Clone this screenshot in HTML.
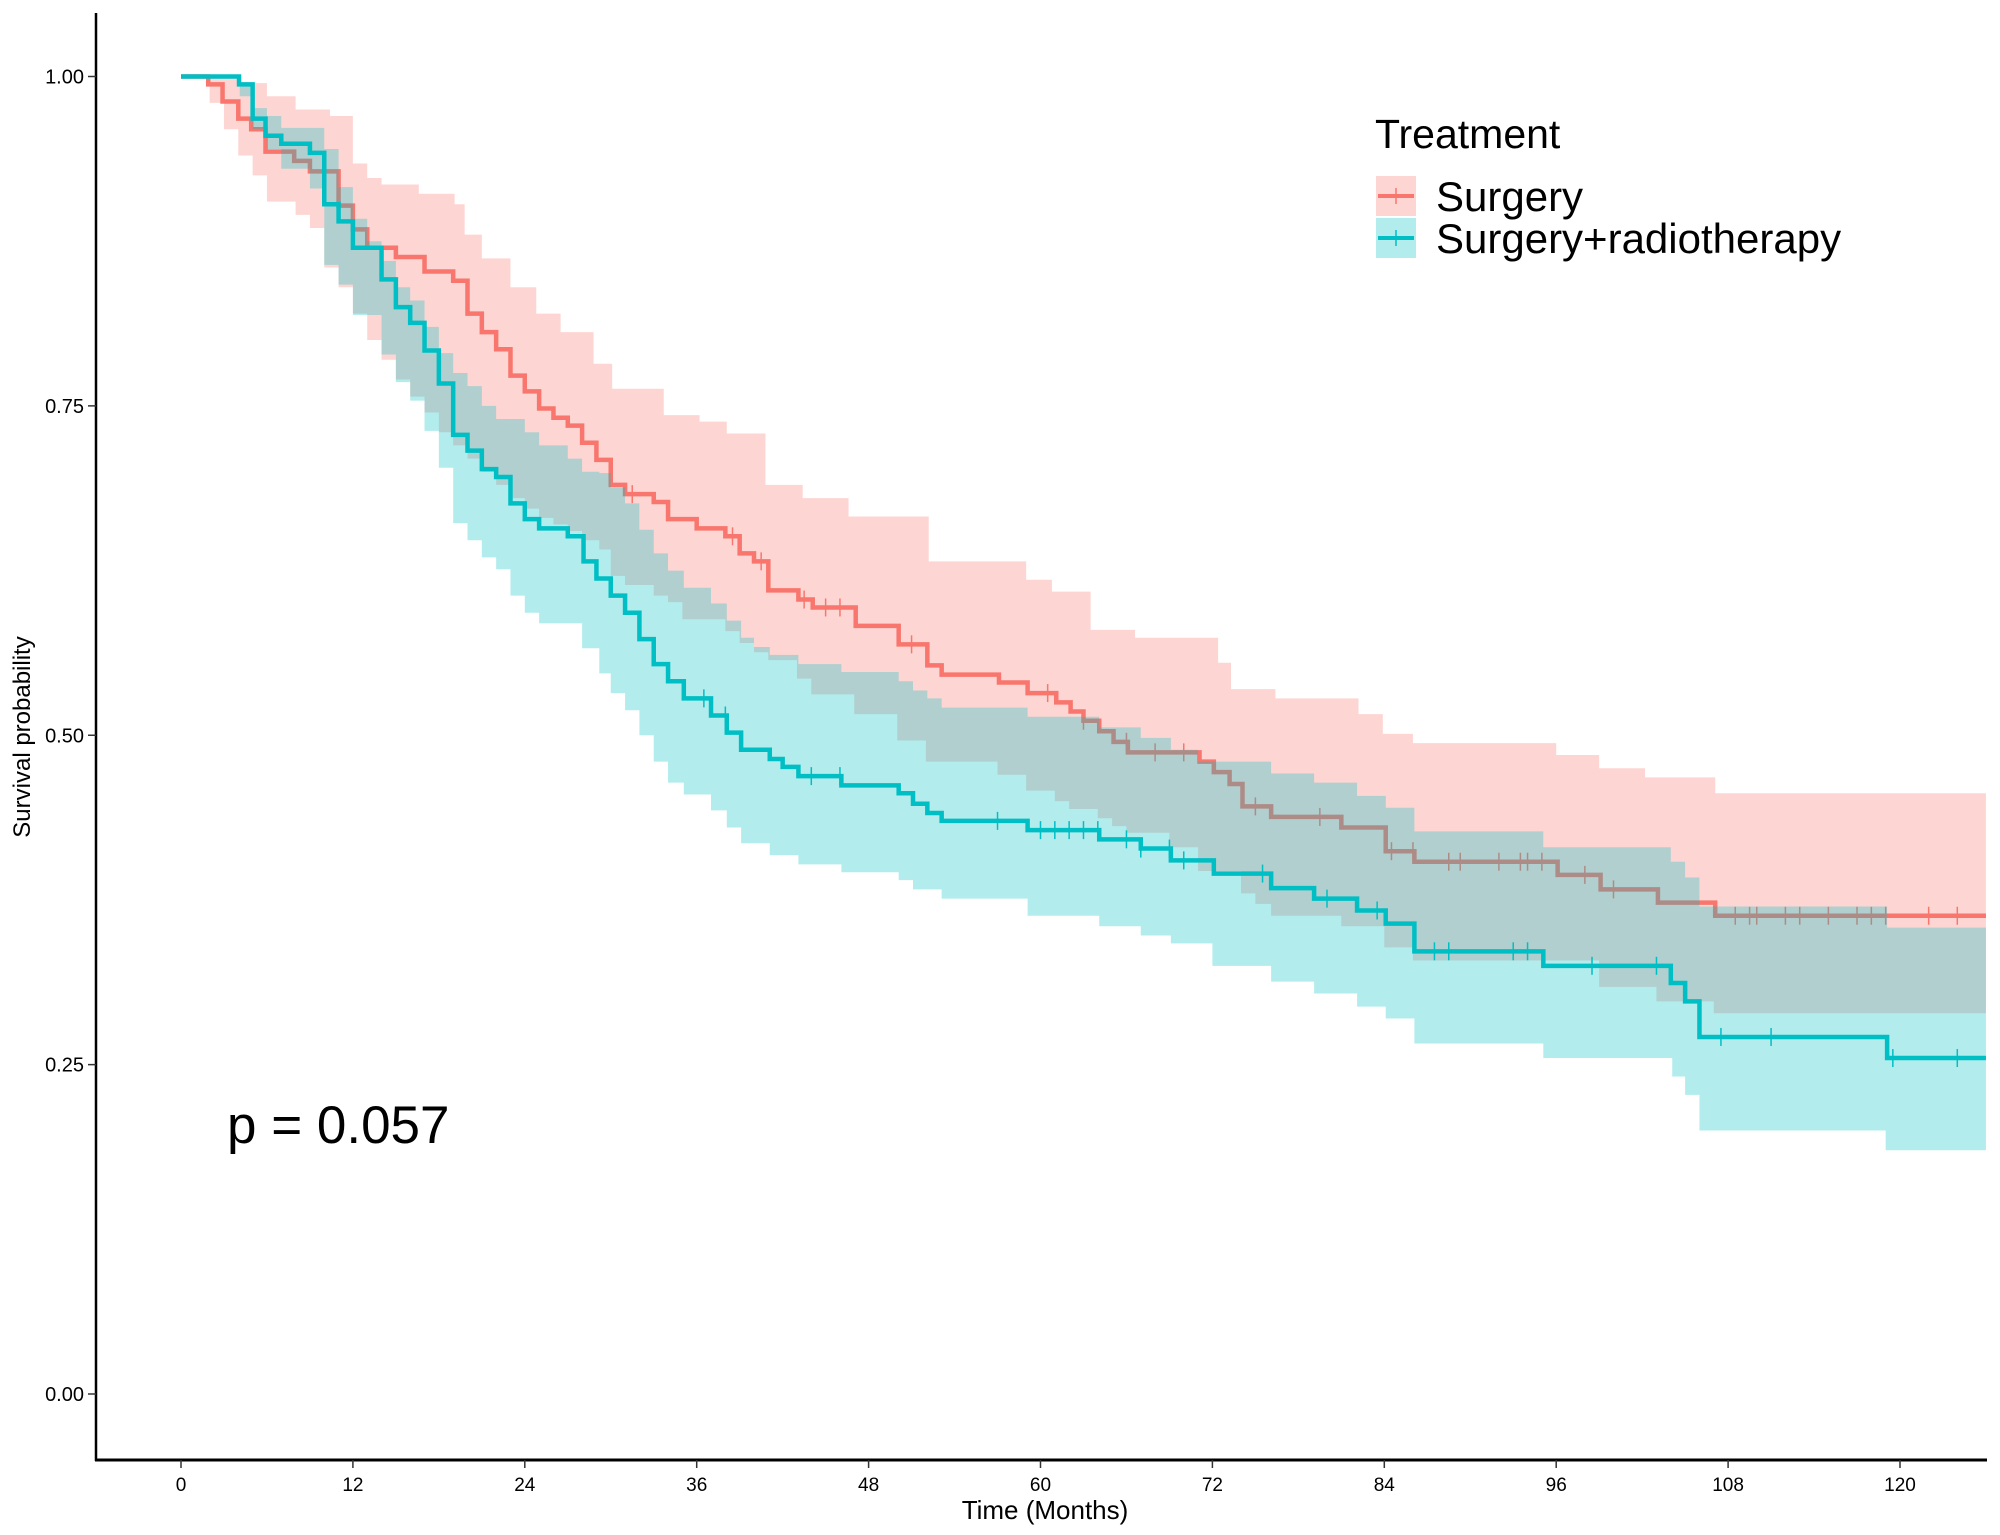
<!DOCTYPE html>
<html><head><meta charset="utf-8">
<style>
html,body{margin:0;padding:0;background:#fff;}
svg{display:block;font-family:"Liberation Sans",Arial,sans-serif;}
</style></head>
<body>
<svg id="chart" width="2000" height="1535" viewBox="0 0 2000 1535" xmlns="http://www.w3.org/2000/svg">
  <rect width="2000" height="1535" fill="#fff"/>
  <g id="bands"></g>
  <g id="axes"></g>
  <text x="0" y="0" transform="translate(30,737) rotate(-90)" text-anchor="middle" font-size="24" fill="#000">Survival probability</text>
  <text x="1045" y="1519" text-anchor="middle" font-size="26" fill="#000">Time (Months)</text>
  <text x="227" y="1143" font-size="53" fill="#000">p = 0.057</text>
  <g>
    <text x="1375" y="148" font-size="41" fill="#000">Treatment</text>
    <g>
      <rect x="1376" y="176" width="40" height="40" fill="rgba(248,118,109,0.3)"/>
      <line x1="1378" y1="196" x2="1414" y2="196" stroke="#F8766D" stroke-width="4"/>
      <line x1="1396" y1="188" x2="1396" y2="204" stroke="#F8766D" stroke-width="1.5"/>
      <text x="1436" y="211" font-size="42" fill="#000">Surgery</text>
    </g>
    <g>
      <rect x="1376" y="218" width="40" height="40" fill="rgba(0,191,196,0.3)"/>
      <line x1="1378" y1="238" x2="1414" y2="238" stroke="#00BFC4" stroke-width="4"/>
      <line x1="1396" y1="230" x2="1396" y2="246" stroke="#00BFC4" stroke-width="1.5"/>
      <text x="1436" y="253" font-size="42" fill="#000">Surgery+radiotherapy</text>
    </g>
  </g>
</svg>
<script>
const xTicks = [0,12,24,36,48,60,72,84,96,108,120];
const yTicks = [0,0.25,0.5,0.75,1.0];
const yTickLabels = ["0.00","0.25","0.50","0.75","1.00"];
const tMax = 126;

const redTime = [0,1.9,2.9,4.0,4.9,5.9,7.9,9.0,11,12,13,15,17,19,20,21,22,23,24,25,26,27,28,29,30,31,33,34,36,38,39,40,41,43.1,44.1,47.1,50.1,52.1,53.1,57.1,59.1,61.1,62.1,63,64.1,65.1,66.1,71.1,72.1,73.2,74.1,76.1,81,84.1,86.1,96.1,99.1,103.1,107.1];
const redSurv = [1,.994,.981,.968,.960,.943,.936,.928,.902,.884,.870,.863,.852,.845,.820,.806,.793,.773,.761,.748,.741,.735,.722,.709,.690,.683,.677,.664,.657,.651,.638,.632,.610,.603,.597,.583,.569,.553,.546,.540,.532,.525,.518,.511,.503,.495,.487,.480,.472,.463,.446,.438,.430,.412,.404,.394,.383,.373,.363];
const redUpTime = [0,2,4,6,8,10.4,12,13,14,16.6,19.1,19.8,21,23,24.8,26.5,28.8,30.1,33.7,36.2,38.1,40.8,43.4,46.6,52.2,59,60.8,63.5,66.6,72.4,73.3,76.4,82.2,83.9,86,96,99,102.2,107.1];
const redUp = [1,1,.995,.985,.975,.97,.934,.923,.918,.911,.903,.88,.862,.840,.820,.806,.782,.763,.743,.738,.729,.690,.680,.666,.632,.618,.609,.580,.574,.555,.535,.528,.516,.501,.494,.485,.475,.468,.456];
const redLoTime = [0,2,3,4,5,6,8,9,10,11,12,13,14,15,16,17,18,19,20,21,22,23,24,25,26,27,28,29.2,30,31,33,34,35,38,39,40,41,43,44,47,50,52,57,59,61,62,64,65,66,69,71,74,75,76.1,81,84,86,99,103,107];
const redLo = [1,.98,.96,.94,.925,.905,.895,.885,.855,.84,.82,.80,.785,.77,.757,.745,.73,.72,.71,.70,.69,.68,.672,.665,.66,.655,.648,.641,.621,.614,.606,.601,.588,.579,.570,.563,.557,.543,.531,.516,.496,.480,.470,.458,.450,.444,.437,.431,.426,.415,.397,.380,.372,.363,.355,.339,.329,.309,.298,.289];
const redCensor = [31.5,38.5,40.5,43.5,45,46,51,60.5,63,66,68,70,75,79.5,84.5,86,88.5,89.3,92,93.5,94,95,98,100,108.5,109.5,110,112,113,115,117,118,119,122,124];

const tealTime = [0,4.05,5.0,5.9,7.0,9.0,10,11,12,14,15,16,17,18,19,20,21,22,23,24,25,27,28.1,29,30,31,32,33,34,35.1,37,38.1,39.1,41.1,42,43.1,46.1,50.1,51.1,52.1,53.1,59.1,64.1,67,69.1,72.1,76.1,79.1,82.1,84.1,86.1,95.1,104,105,106,119.1];
const tealSurv = [1,.994,.968,.955,.949,.942,.903,.890,.870,.846,.825,.813,.792,.767,.728,.716,.702,.696,.676,.664,.657,.651,.632,.619,.606,.593,.573,.554,.541,.528,.515,.502,.489,.482,.476,.469,.462,.456,.448,.441,.435,.428,.421,.414,.405,.395,.384,.376,.367,.357,.336,.325,.312,.298,.271,.255];
const tealUpTime = [0,4.1,5.1,6,7,9,10,11,12,13,14,15,16,17,18,19,20,21,22,24,25,27,28,29.2,30,31,32,33,34,35.1,37,38.1,39.1,40,41.1,43.1,46.1,50.1,51.1,52.1,53.1,59.1,64.1,67,69.1,71,76.1,79.1,82.1,84.1,86.1,95.1,104,105,106,119.1];
const tealUp = [1,.994,.976,.970,.961,.961,.945,.916,.892,.875,.86,.84,.83,.81,.79,.775,.765,.75,.74,.73,.72,.71,.70,.699,.688,.676,.656,.638,.625,.612,.600,.587,.574,.567,.561,.554,.548,.541,.534,.528,.521,.514,.506,.498,.489,.480,.471,.464,.454,.445,.427,.415,.404,.392,.370,.354];
const tealLoTime = [0,4.1,5,6,7,9,10,11,12,14,15,16,17,18,19,20,21,22,23,24,25,28,29.2,30,31,32,33,34,35.1,37,38.1,39.1,41.1,43.1,46.1,50.1,51.1,53.1,59.1,64.1,67,69.1,72,76.1,79.1,82.1,84.1,86.1,95.1,104.1,105,106,119];
const tealLo = [1,.985,.96,.945,.93,.915,.857,.842,.819,.789,.768,.754,.731,.703,.661,.648,.635,.626,.606,.593,.585,.566,.547,.532,.519,.500,.480,.464,.455,.443,.430,.418,.409,.402,.396,.390,.383,.376,.363,.355,.348,.342,.325,.313,.304,.294,.285,.266,.255,.241,.227,.200,.185];
const tealCensor = [36.5,38,44,46,57,60,61,62,63,64,66,67,69,70,75.5,80,83.5,87.5,88.5,93,94,98.5,103,107.5,111,119.5,124];

const NS = "http://www.w3.org/2000/svg";
const X = m => 181 + m * 14.325;
const Y = s => 1394 - s * 1317.5;
const svg = document.getElementById('chart');
const bands = document.getElementById('bands');
const axes = document.getElementById('axes');

function stepAt(times, vals, t){ let v = vals[0]; for (let i=0;i<times.length;i++){ if (times[i] <= t) v = vals[i]; else break; } return v; }
function stepPath(times, vals){
  let d = 'M' + X(times[0]) + ' ' + Y(vals[0]);
  for (let i=1;i<times.length;i++) d += ' H' + X(times[i]) + ' V' + Y(vals[i]);
  return d + ' H' + X(tMax);
}
function bandPath(ut, uv, lt, lv){
  const all = Array.from(new Set(ut.concat(lt))).sort((a,b)=>a-b);
  let d = 'M' + X(all[0]) + ' ' + Y(stepAt(ut,uv,all[0]));
  for (let i=1;i<all.length;i++) d += ' H' + X(all[i]) + ' V' + Y(stepAt(ut,uv,all[i]));
  d += ' H' + X(tMax) + ' V' + Y(stepAt(lt,lv,all[all.length-1]));
  for (let i=all.length-1;i>=1;i--) d += ' H' + X(all[i]) + ' V' + Y(stepAt(lt,lv,all[i-1]));
  return d + ' H' + X(all[0]) + ' Z';
}
function mk(tag, attrs, parent){ const e = document.createElementNS(NS, tag); for (const k in attrs) e.setAttribute(k, attrs[k]); parent.appendChild(e); return e; }

let e;
e = mk('path', {d: bandPath(redUpTime, redUp, redLoTime, redLo), fill:'rgba(248,118,109,0.3)'}, bands);


e = mk('path', {d: stepPath(redTime, redSurv), fill:'none', stroke:'#F8766D', 'stroke-width':4.5}, bands);


redCensor.forEach(t => {
  const c = mk('line', {x1:X(t), x2:X(t), y1:Y(stepAt(redTime,redSurv,t))-9, y2:Y(stepAt(redTime,redSurv,t))+9, stroke:'#F8766D', 'stroke-width':1.5}, bands);
  
  
});
e = mk('path', {d: bandPath(tealUpTime, tealUp, tealLoTime, tealLo), fill:'rgba(0,191,196,0.3)'}, bands);


e = mk('path', {d: stepPath(tealTime, tealSurv), fill:'none', stroke:'#00BFC4', 'stroke-width':4.5}, bands);


tealCensor.forEach(t => {
  const c = mk('line', {x1:X(t), x2:X(t), y1:Y(stepAt(tealTime,tealSurv,t))-9, y2:Y(stepAt(tealTime,tealSurv,t))+9, stroke:'#00BFC4', 'stroke-width':1.5}, bands);
  
  
});

e = mk('line', {x1:96, y1:13, x2:96, y2:1461, stroke:'#000', 'stroke-width':2.5}, axes);


e = mk('line', {x1:95, y1:1460, x2:1987, y2:1460, stroke:'#000', 'stroke-width':3}, axes);


xTicks.forEach(t => {
  const tk = mk('line', {x1:X(t), x2:X(t), y1:1460, y2:1468, stroke:'#333', 'stroke-width':1.5}, axes);
  
  
  const lb = mk('text', {x:X(t), y:1491, 'text-anchor':'middle', 'font-size':19, fill:'#000'}, axes);
  lb.textContent = String(t);
  
  
});
yTicks.forEach((v,i) => {
  const tk = mk('line', {x1:88, x2:96, y1:Y(v), y2:Y(v), stroke:'#333', 'stroke-width':1.5}, axes);
  
  
  const lb = mk('text', {x:84, y:Y(v)+7, 'text-anchor':'end', 'font-size':20, fill:'#000'}, axes);
  lb.textContent = yTickLabels[i];
  
  
});
</script>
</body></html>
